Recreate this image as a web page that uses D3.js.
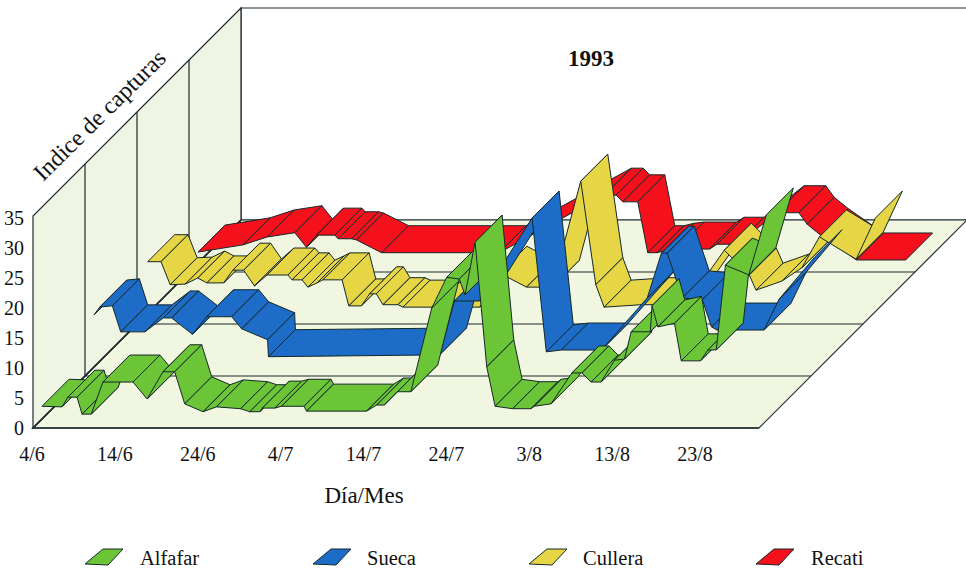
<!DOCTYPE html>
<html lang="es">
  <head>
    <meta charset="UTF-8" />
    <title>Indice de capturas 1993</title>
    <script src="https://d3js.org/d3.v7.min.js"></script>
    <style>
      html, body { margin: 0; background: #fff; }
      svg { display: block; }
      text { font-family: "Liberation Serif", serif; fill: #111; }
      .panel { stroke: #14282a; stroke-width: 1; stroke-linejoin: round; }
      .frame { stroke: #1d2b2b; stroke-width: 1.2; fill: none; }
      .frame-bold { stroke: #1d2b2b; stroke-width: 1.6; fill: none; }
    </style>
  </head>
  <body>
    <svg width="966" height="573"></svg>
    <script>
      const series = ["Alfafar", "Sueca", "Cullera", "Recati"];
      const colors = ["#6cc437", "#1c6cc8", "#e6d545", "#f5101c"];
      const yTicks = [0, 5, 10, 15, 20, 25, 30, 35];
      const xTickDays = [0, 10, 20, 30, 40, 50, 60, 70, 80];
      const xTickLabels = ["4/6", "14/6", "24/6", "4/7", "14/7", "24/7", "3/8", "13/8", "23/8"];

      // days since 4/6 and index
      const alfafarDias = [0, 2.4, 3.1, 4.2, 4.8, 5.9, 7.3, 10.9, 12.6, 14.5, 15.9, 17.1, 19.3, 20.9, 23.8, 24.9, 26.1, 26.4, 27.9, 28.7, 31.4, 31.7, 38.9, 40.1, 41.0, 42.6, 44.2, 46.7, 48.5, 50.0, 50.7, 51.9, 53.3, 54.3, 56.4, 58.6, 59.0, 61.0, 63.5, 64.7, 65.8, 67.0, 68.6, 69.8, 70.6, 72.9, 73.1, 73.8, 75.8, 76.6, 78.9, 79.8, 80.8, 81.9, 84.7, 86.8];
      const alfafarValores = [2.1, 2.0, 3.6, 3.6, 0.8, 0.8, 6.1, 6.1, 3.3, 7.8, 7.8, 2.5, 1.2, 2.0, 1.7, 1.2, 1.2, 1.8, 1.8, 2.1, 2.1, 1.3, 1.3, 2.3, 2.3, 4.5, 4.5, 18.3, 23.4, 23.1, 20.5, 29.2, 8.6, 2.1, 1.7, 1.7, 2.1, 2.5, 7.6, 7.6, 6.1, 6.1, 9.7, 9.9, 14.4, 14.4, 18.7, 15.2, 15.8, 9.6, 9.6, 11.4, 11.4, 25.4, 23.8, 33.7];

      const suecaDias = [0, 0.7, 2.2, 3.2, 6.1, 8.3, 9.3, 11.8, 13.5, 16.5, 17.7, 20.8, 20.9, 41.4, 43.2, 46.2, 52.5, 54.2, 56.0, 60.8, 66.3, 68.0, 68.7, 70.5, 72.9, 74.0, 74.7, 80.3, 82.1, 86.4];
      const suecaValores = [8.6, 9.9, 10.1, 5.8, 5.8, 8.1, 8.1, 5.4, 8.3, 8.3, 6.3, 4.5, 1.7, 2.0, 10.9, 10.9, 24.6, 2.5, 2.8, 2.8, 11.4, 18.8, 18.8, 11.4, 11.1, 6.6, 6.1, 6.1, 11.2, 18.2];

      const culleraDias = [0.2, 1.8, 2.9, 4.7, 6.2, 7.3, 9.3, 10.4, 11.7, 13.0, 14.5, 17.0, 17.5, 18.7, 19.4, 20.5, 21.2, 23.5, 24.3, 25.8, 26.8, 27.6, 28.4, 30.2, 30.8, 34.6, 40.0, 42.4, 45.6, 48.7, 52.1, 53.9, 54.9, 59.4, 64.7, 69.3, 72.3, 73.1, 76.2, 78.6, 80.7, 85.1, 87.4];
      const culleraValores = [8.8, 8.8, 5.0, 5.1, 6.1, 5.3, 5.3, 7.4, 7.4, 4.8, 6.6, 6.6, 5.8, 5.8, 4.6, 5.3, 5.8, 5.8, 1.5, 1.5, 3.5, 3.5, 1.7, 1.7, 1.3, 1.3, 1.3, 6.9, 4.6, 4.6, 22.1, 5.0, 1.3, 1.7, 1.7, 10.7, 6.6, 4.1, 5.6, 7.8, 12.9, 9.2, 16.0];

      const recatiDias = [0, 5.4, 8.3, 11.6, 13.0, 14.2, 16.4, 16.8, 18.4, 19.0, 22.0, 36.1, 48.7, 50.1, 50.9, 52.7, 53.9, 55.0, 56.2, 57.4, 61.3, 62.2, 64.6, 69.4, 72.0, 73.0, 74.7, 78.9, 84.8];
      const recatiValores = [1.8, 3.0, 4.3, 5.0, 2.6, 4.6, 4.6, 4.0, 4.0, 3.8, 1.7, 1.7, 11.2, 11.2, 10.1, 10.1, 1.7, 1.7, 2.1, 2.3, 2.3, 3.1, 3.1, 8.3, 8.3, 6.4, 4.5, 0.5, 0.5];

      const diasPorSerie = [alfafarDias, suecaDias, culleraDias, recatiDias];
      const valoresPorSerie = [alfafarValores, suecaValores, culleraValores, recatiValores];

      const svg = d3.select("svg");

      const originX = 33;
      const originY = 428;
      const floorWidth = 726;
      const wallHeight = 212;
      const floorDepth = 208;
      const ribbonFront = 9;
      const ribbonBack = 36;

      const xScale = d3.scaleLinear().domain([0, 87]).range([0, floorWidth]);
      const yScale = d3.scaleLinear().domain([0, 35]).range([0, wallHeight]);
      const depthScale = d3.scaleBand().domain(series).range([0, floorDepth]);
      // the printed labels run a little tighter than the plot itself
      const xLabelScale = d3.scaleLinear().domain([0, 80]).range([32, 695]);
      const yLabelScale = d3.scaleLinear().domain([0, 35]).range([435, 225]);

      // oblique projection: depth moves a point up and to the right
      function project(day, value, depth) {
        return [originX + xScale(day) + depth, originY - yScale(value) - depth];
      }

      const xMax = xScale.domain()[1];
      const yMax = yScale.domain()[1];

      // back wall, floor, side wall
      svg.append("polygon")
        .attr("points", [project(0, 0, floorDepth), project(xMax, 0, floorDepth), project(xMax, yMax, floorDepth), project(0, yMax, floorDepth)].join(" "))
        .attr("class", "frame")
        .style("fill", "#ffffff");
      svg.append("polygon")
        .attr("points", [project(0, 0, 0), project(xMax, 0, 0), project(xMax, 0, floorDepth), project(0, 0, floorDepth)].join(" "))
        .style("fill", "#f1f6e0")
        .attr("class", "frame");
      svg.append("polygon")
        .attr("points", [project(0, 0, 0), project(0, yMax, 0), project(0, yMax, floorDepth), project(0, 0, floorDepth)].join(" "))
        .style("fill", "#f0f4e3")
        .attr("class", "frame");

      // separators between the four bands
      series.slice(1).forEach(function (s) {
        const d = depthScale(s);
        const p0 = project(0, 0, d);
        const p1 = project(xMax, 0, d);
        const p2 = project(0, yMax, d);
        svg.append("path").attr("class", "frame").attr("d", d3.line()([p2, p0, p1]));
      });

      svg.append("path").attr("class", "frame-bold").attr("d", d3.line()([project(xMax, 0, 0), project(0, 0, 0), project(0, 0, floorDepth)]));

      // ribbons, back series first and each one left to right
      d3.range(series.length - 1, -1, -1).forEach(function (i) {
        const dias = diasPorSerie[i];
        const valores = valoresPorSerie[i];
        const front = depthScale(series[i]) + ribbonFront;
        const back = depthScale(series[i]) + ribbonBack;
        svg.append("g")
          .selectAll("polygon")
          .data(d3.range(dias.length - 1))
          .enter()
          .append("polygon")
          .attr("class", "panel")
          .attr("fill", colors[i])
          .attr("points", function (k) {
            return [
              project(dias[k], valores[k], front),
              project(dias[k], valores[k], back),
              project(dias[k + 1], valores[k + 1], back),
              project(dias[k + 1], valores[k + 1], front),
            ].join(" ");
          });
      });

      // axis labels
      svg.selectAll(".ytick")
        .data(yTicks)
        .enter()
        .append("text")
        .attr("class", "ytick")
        .attr("x", 24)
        .attr("y", function (d) { return yLabelScale(d); })
        .attr("text-anchor", "end")
        .attr("font-size", 20)
        .text(function (d) { return d; });

      svg.selectAll(".xtick")
        .data(xTickDays)
        .enter()
        .append("text")
        .attr("class", "xtick")
        .attr("x", function (d) { return xLabelScale(d); })
        .attr("y", 461)
        .attr("text-anchor", "middle")
        .attr("font-size", 20)
        .text(function (d, i) { return xTickLabels[i]; });

      svg.append("text").attr("x", 364).attr("y", 503).attr("text-anchor", "middle").attr("font-size", 23).text("Día/Mes");
      svg.append("text").attr("x", 591).attr("y", 66).attr("text-anchor", "middle").attr("font-size", 23).attr("font-weight", "bold").text("1993");
      svg.append("text")
        .attr("transform", "translate(43,182) rotate(-44.5)")
        .attr("font-size", 24)
        .text("Indice de capturas");

      // legend
      const legendX = [85, 313, 529, 756];
      const legendTextX = [140, 367, 583, 811];
      const legend = svg.selectAll(".legend")
        .data(series)
        .enter()
        .append("g")
        .attr("class", "legend");
      legend.append("polygon")
        .attr("class", "panel")
        .attr("fill", function (d, i) { return colors[i]; })
        .attr("points", function (d, i) {
          const x = legendX[i];
          return [[x, 564], [x + 23, 565], [x + 38, 549], [x + 18, 549]].join(" ");
        });
      legend.append("text")
        .attr("x", function (d, i) { return legendTextX[i]; })
        .attr("y", 565)
        .attr("font-size", 20.5)
        .text(function (d) { return d; });
    </script>
  </body>
</html>
